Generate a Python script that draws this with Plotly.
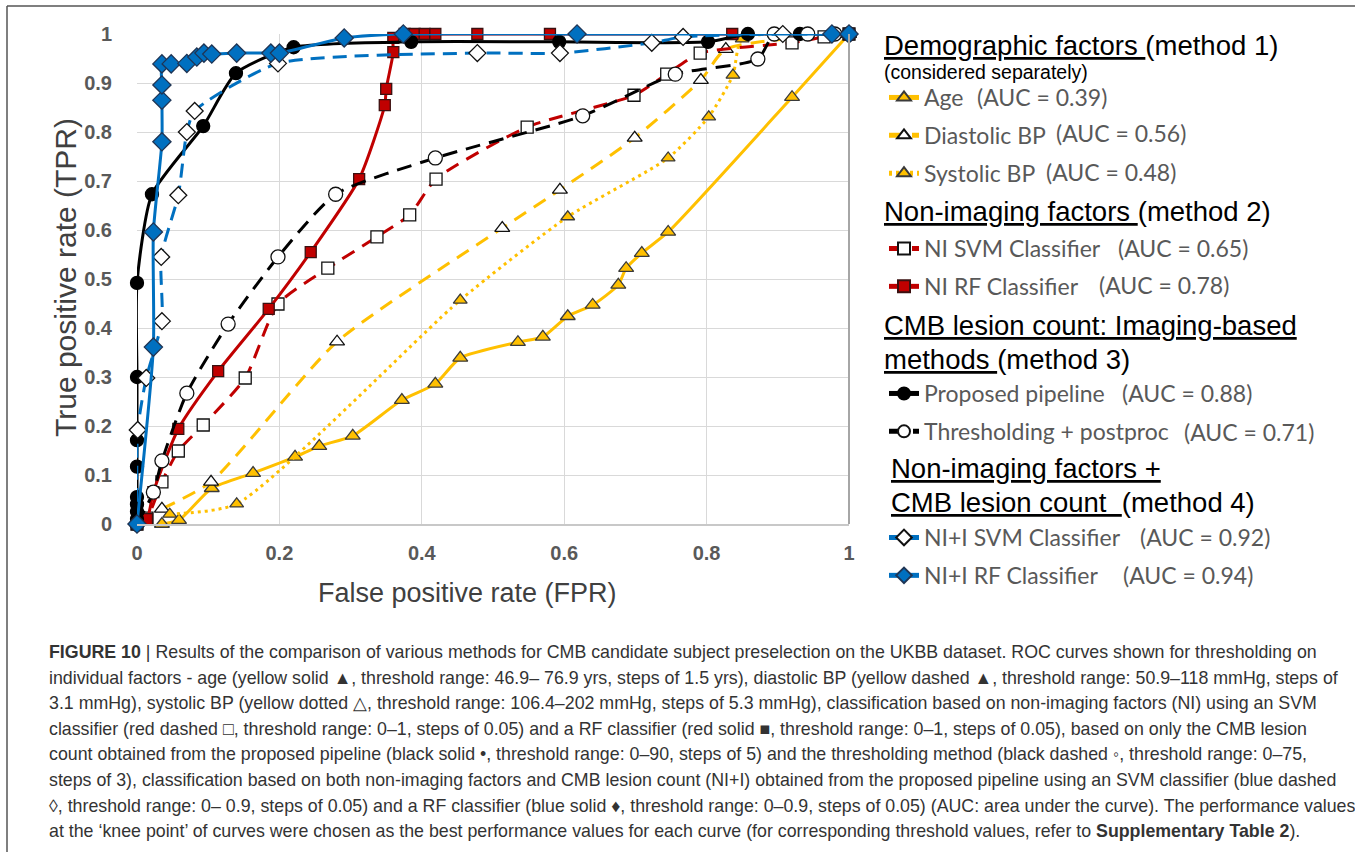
import plotly.graph_objects as go

# ---------------- data ----------------
age_fpr = [0.035, 0.059, 0.105, 0.163, 0.222, 0.256, 0.303, 0.372, 0.419, 0.454, 0.535, 0.570, 0.605, 0.640, 0.676, 0.687, 0.709, 0.746, 0.920, 1.0]
age_tpr = [0.0, 0.008, 0.073, 0.104, 0.137, 0.159, 0.180, 0.253, 0.286, 0.339, 0.371, 0.382, 0.424, 0.447, 0.488, 0.522, 0.553, 0.596, 0.871, 1.0]

dia_fpr = [0.035, 0.104, 0.281, 0.513, 0.594, 0.699, 0.792, 0.827, 1.0]
dia_tpr = [0.031, 0.086, 0.372, 0.604, 0.682, 0.788, 0.906, 0.969, 1.0]

sys_fpr = [0.046, 0.140, 0.454, 0.605, 0.746, 0.803, 0.837, 0.850, 1.0]
sys_tpr = [0.020, 0.041, 0.457, 0.627, 0.747, 0.831, 0.916, 0.990, 1.0]

ni_svm_fpr = [0.0, 0.014, 0.035, 0.058, 0.093, 0.152, 0.198, 0.268, 0.337, 0.383, 0.420, 0.548, 0.698, 0.744, 0.791, 0.920, 0.965, 1.0]
ni_svm_tpr = [0.0, 0.012, 0.086, 0.149, 0.202, 0.298, 0.449, 0.522, 0.586, 0.631, 0.704, 0.810, 0.875, 0.918, 0.961, 0.982, 0.994, 1.0]

ni_rf_fpr = [0.0, 0.014, 0.023, 0.058, 0.114, 0.185, 0.244, 0.312, 0.348, 0.350, 0.360, 0.360, 0.376, 0.390, 0.404, 0.419, 0.478, 0.580, 0.836, 1.0]
ni_rf_tpr = [0.0, 0.010, 0.065, 0.194, 0.312, 0.439, 0.555, 0.704, 0.855, 0.888, 0.963, 0.992, 1.0, 1.0, 1.0, 1.0, 1.0, 1.0, 1.0, 1.0]

pipe_fpr = [0.0, 0.0, 0.0, 0.0, 0.0, 0.0, 0.0, 0.0, 0.0, 0.021, 0.093, 0.139, 0.220, 0.385, 0.593, 0.802, 0.858, 0.931, 1.0]
pipe_tpr = [0.0, 0.010, 0.025, 0.040, 0.055, 0.117, 0.171, 0.300, 0.492, 0.673, 0.812, 0.920, 0.973, 0.984, 0.984, 0.984, 1.0, 1.0, 1.0]

thr_fpr = [0.0, 0.023, 0.035, 0.070, 0.128, 0.198, 0.279, 0.419, 0.626, 0.756, 0.872, 0.895, 0.942, 0.980, 1.0]
thr_tpr = [0.0, 0.065, 0.129, 0.267, 0.408, 0.545, 0.673, 0.747, 0.833, 0.918, 0.949, 1.0, 1.0, 1.0, 1.0]

nii_svm_fpr = [0.0, 0.001, 0.013, 0.035, 0.034, 0.058, 0.070, 0.081, 0.198, 0.478, 0.594, 0.723, 0.767, 0.907, 1.0]
nii_svm_tpr = [0.0, 0.192, 0.298, 0.414, 0.545, 0.671, 0.800, 0.843, 0.940, 0.961, 0.961, 0.982, 0.994, 1.0, 1.0]

nii_rf_fpr = [0.0, 0.023, 0.023, 0.035, 0.035, 0.035, 0.035, 0.048, 0.070, 0.084, 0.094, 0.105, 0.140, 0.188, 0.200, 0.291, 0.374, 0.618, 0.976, 1.0]
nii_rf_tpr = [0.0, 0.361, 0.596, 0.780, 0.865, 0.896, 0.939, 0.939, 0.940, 0.953, 0.961, 0.959, 0.961, 0.961, 0.961, 0.992, 1.0, 1.0, 1.0, 1.0]

x_tick_vals = [0, 0.2, 0.4, 0.6, 0.8, 1]
x_tick_text = ["0", "0.2", "0.4", "0.6", "0.8", "1"]
y_tick_vals = [0, 0.1, 0.2, 0.3, 0.4, 0.5, 0.6, 0.7, 0.8, 0.9, 1]
y_tick_text = ["0", "0.1", "0.2", "0.3", "0.4", "0.5", "0.6", "0.7", "0.8", "0.9", "1"]

x_title = "False positive rate (FPR)"
y_title = "True positive rate (TPR)"

series_names = ["Age", "Diastolic BP", "Systolic BP", "NI SVM Classifier", "NI RF Classifier",
                "Proposed pipeline", "Thresholding + postproc", "NI+I SVM Classifier", "NI+I RF Classifier"]
series_auc = ["(AUC = 0.39)", "(AUC = 0.56)", "(AUC = 0.48)", "(AUC = 0.65)", "(AUC = 0.78)",
              "(AUC = 0.88)", "(AUC = 0.71)", "(AUC = 0.92)", "(AUC = 0.94)"]

caption_lines = [
    "<b>FIGURE 10</b> | Results of the comparison of various methods for CMB candidate subject preselection on the UKBB dataset. ROC curves shown for thresholding on",
    "individual factors - age (yellow solid \u25b2, threshold range: 46.9\u2013 76.9 yrs, steps of 1.5 yrs), diastolic BP (yellow dashed \u25b2, threshold range: 50.9\u2013118 mmHg, steps of",
    "3.1 mmHg), systolic BP (yellow dotted \u25b3, threshold range: 106.4\u2013202 mmHg, steps of 5.3 mmHg), classification based on non-imaging factors (NI) using an SVM",
    "classifier (red dashed \u25a1, threshold range: 0\u20131, steps of 0.05) and a RF classifier (red solid \u25a0, threshold range: 0\u20131, steps of 0.05), based on only the CMB lesion",
    "count obtained from the proposed pipeline (black solid \u2022, threshold range: 0\u201390, steps of 5) and the thresholding method (black dashed \u25e6, threshold range: 0\u201375,",
    "steps of 3), classification based on both non-imaging factors and CMB lesion count (NI+I) obtained from the proposed pipeline using an SVM classifier (blue dashed",
    "\u25ca, threshold range: 0\u2013 0.9, steps of 0.05) and a RF classifier (blue solid \u2666, threshold range: 0\u20130.9, steps of 0.05) (AUC: area under the curve). The performance values",
    "at the \u2018knee point\u2019 of curves were chosen as the best performance values for each curve (for corresponding threshold values, refer to <b>Supplementary Table 2</b>).",
]

# ---------------- layout geometry ----------------
W, H = 1355, 852
L, R, T, B = 137, 1355 - 849, 34, 852 - 524
PW, PH = W - L - R, H - T - B


def px(xp):
    return (xp - L) / PW


def py(yp):
    return (H - B - yp) / PH


YEL, RED, BLK, BLU = "#FFC000", "#C00000", "#000000", "#0070C0"
SMOOTH = 0.6

fig = go.Figure()


def add(name, xs, ys, color, dash, symbol, mfill, mline, msize, legend, lw=3):
    fig.add_trace(go.Scatter(
        x=xs, y=ys, name=name, mode="lines+markers",
        line=dict(color=color, width=lw, dash=dash, shape="spline", smoothing=SMOOTH),
        marker=dict(symbol=symbol, size=msize, color=mfill, line=dict(color=mline, width=1.3)),
        cliponaxis=False, legend=legend, legendgroup=name, showlegend=True,
        hoverinfo="skip",
    ))


add(series_names[0], age_fpr, age_tpr, YEL, "solid", "triangle-up", YEL, "#3a3a3a", 13, "legend")
add(series_names[1], dia_fpr, dia_tpr, YEL, "14px,9px", "triangle-up", "white", "#111", 13, "legend")
add(series_names[2], sys_fpr, sys_tpr, YEL, "3px,4px", "triangle-up", YEL, "#3a3a3a", 12, "legend")
add(series_names[3], ni_svm_fpr, ni_svm_tpr, RED, "14px,9px", "square", "white", "#111", 12, "legend2")
add(series_names[4], ni_rf_fpr, ni_rf_tpr, RED, "solid", "square", RED, "#3a1010", 11, "legend2")
add(series_names[5], pipe_fpr, pipe_tpr, BLK, "solid", "circle", BLK, BLK, 13, "legend3")
add(series_names[6], thr_fpr, thr_tpr, BLK, "15px,9px", "circle", "white", "#111", 14, "legend3")
add(series_names[7], nii_svm_fpr, nii_svm_tpr, BLU, "14px,8px", "diamond", "white", "#111", 13, "legend4")
add(series_names[8], nii_rf_fpr, nii_rf_tpr, BLU, "solid", "diamond", BLU, "#1f3555", 14, "legend4")

LEG_FONT = dict(family="Lato, Open Sans, sans-serif", size=23, color="#595959")
leg_common = dict(font=LEG_FONT, bgcolor="rgba(0,0,0,0)", tracegroupgap=5,
                  xanchor="left", yanchor="top", itemwidth=30, traceorder="grouped",
                  itemsizing="constant")

legend_item_y = [97, 133, 172, 248, 285, 393, 432, 537, 575]
legend_first_item_y = [97, 248, 393, 537]
leg_x = px(884)

auc_x = [975, 1054, 1044, 1116, 1097, 1120, 1182, 1138, 1121]

annotations = []
HDR = dict(family="Liberation Sans, Arial, sans-serif", size=27.5, color="#000000")
headers = [
    ("<u>Demographic factors\u00a0</u>(method 1)", 882, 46, HDR),
    ("(considered separately)", 882, 72, dict(family="Liberation Sans, Arial, sans-serif", size=19.5, color="#000000")),
    ("<u>Non-imaging factors\u00a0</u>(method 2)", 882, 211, HDR),
    ("<u>CMB lesion count: Imaging-based</u>", 882, 325, HDR),
    ("<u>methods\u00a0</u>(method 3)", 882, 359, HDR),
    ("<u>Non-imaging factors +</u>", 889, 468, HDR),
    ("<u>CMB lesion count\u00a0\u00a0</u>(method 4)", 889, 502, HDR),
]
for txt, xx, yy, f in headers:
    annotations.append(dict(text=txt, x=px(xx), y=py(yy), xref="paper", yref="paper",
                            xanchor="left", yanchor="middle", showarrow=False, font=f))

for txt, xx, yy in zip(series_auc, auc_x, legend_item_y):
    annotations.append(dict(text=txt, x=px(xx), y=py(yy), xref="paper", yref="paper",
                            xanchor="left", yanchor="middle", showarrow=False, font=LEG_FONT))

AX_T = dict(family="Liberation Sans, Arial, sans-serif", color="#404040")
annotations.append(dict(text=x_title, x=px(467), y=py(593), xref="paper", yref="paper",
                        xanchor="center", yanchor="middle", showarrow=False, font=dict(size=27, **AX_T)))
annotations.append(dict(text=y_title, x=px(65), y=py(278), xref="paper", yref="paper", textangle=-90,
                        xanchor="center", yanchor="middle", showarrow=False, font=dict(size=30, **AX_T)))

CAP = dict(family="Liberation Sans, Arial, sans-serif", size=17.8, color="#333333")
for i, line in enumerate(caption_lines):
    annotations.append(dict(text=line, x=px(47), y=py(652 + i * 25.6), xref="paper", yref="paper",
                            xanchor="left", yanchor="middle", showarrow=False, font=CAP))

shapes = [
    dict(type="line", xref="paper", yref="paper", x0=px(7), x1=px(1360), y0=py(6), y1=py(6),
         line=dict(color="#555555", width=1.5)),
    dict(type="line", xref="paper", yref="paper", x0=px(7), x1=px(7), y0=py(6), y1=py(860),
         line=dict(color="#555555", width=1.5)),
    dict(type="line", xref="paper", yref="paper", x0=1, x1=1, y0=0, y1=1,
         line=dict(color="#a6a6a6", width=2)),
]

TICKF = dict(family="Liberation Sans, Arial, sans-serif", size=20, color="#595959", weight="bold")

layout_kwargs = dict(
    width=W, height=H,
    margin=dict(l=L, r=R, t=T, b=B, pad=0),
    paper_bgcolor="white", plot_bgcolor="white",
    showlegend=True,
    xaxis=dict(range=[0, 1], tickvals=x_tick_vals, ticktext=x_tick_text, showgrid=True,
               gridcolor="#d9d9d9", gridwidth=1, zeroline=False, showline=True, linecolor="#c8c8c8",
               linewidth=2, ticks="outside", ticklen=10, tickcolor="rgba(0,0,0,0)", tickfont=TICKF,
               fixedrange=True),
    yaxis=dict(range=[0, 1], tickvals=y_tick_vals, ticktext=y_tick_text, showgrid=True,
               gridcolor="#d9d9d9", gridwidth=1, zeroline=False, showline=False,
               ticks="outside", ticklen=20, tickcolor="rgba(0,0,0,0)", tickfont=TICKF,
               fixedrange=True),
    annotations=annotations,
    shapes=shapes,
    hovermode=False,
)
for i, key in enumerate(["legend", "legend2", "legend3", "legend4"]):
    layout_kwargs[key] = dict(x=leg_x, y=py(legend_first_item_y[i] - 21), **leg_common)

fig.update_layout(**layout_kwargs)
fig.write_html(
    "out.html",
    config={"displayModeBar": False},
    post_script="document.body.style.margin='0px';document.documentElement.style.overflow='hidden';",
)
